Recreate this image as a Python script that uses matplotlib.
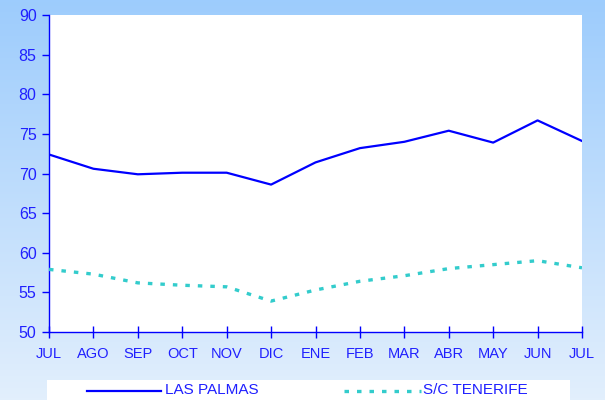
import numpy as np
import matplotlib
matplotlib.use("Agg")
import matplotlib.pyplot as plt
from matplotlib.lines import Line2D

months = ["JUL", "AGO", "SEP", "OCT", "NOV", "DIC", "ENE", "FEB", "MAR", "ABR", "MAY", "JUN", "JUL"]
las_palmas = [72.4, 70.6, 69.9, 70.1, 70.1, 68.6, 71.4, 73.2, 74.0, 75.4, 73.9, 76.7, 74.1]
tenerife = [57.9, 57.3, 56.2, 55.9, 55.7, 53.9, 55.3, 56.4, 57.1, 58.0, 58.5, 59.0, 58.1]
series_names = ["LAS PALMAS", "S/C TENERIFE"]
yticks = [50, 55, 60, 65, 70, 75, 80, 85, 90]

plt.rcParams['font.family'] = ['Liberation Sans', 'DejaVu Sans']

W, H = 605, 400
fig = plt.figure(figsize=(W / 100, H / 100), dpi=100)

# gradient background
bg = fig.add_axes([0, 0, 1, 1], zorder=-10)
top = np.array([0x9d, 0xcc, 0xfd]) / 255.0
bot = np.array([0xe2, 0xef, 0xfc]) / 255.0
t = np.linspace(0, 1, 200)[:, None]
grad = top[None, :] * (1 - t) + bot[None, :] * t
bg.imshow(grad[:, None, :], aspect='auto', extent=[0, 1, 0, 1])
bg.set_xlim(0, 1)
bg.set_ylim(0, 1)
bg.axis('off')

# plot area in pixels: left 49, right 582, top 15, bottom 332
l, r, tp, b = 49, 582, 15, 332
ax = fig.add_axes([l / W, 1 - b / H, (r - l) / W, (b - tp) / H])
ax.set_facecolor('white')

x = np.arange(len(months))
axis_blue = '#0000ff'
text_blue = '#2020ff'
teal_style = (0, (1.35, 2.4))
ax.plot(x, las_palmas, color='#0000ff', lw=1.6, solid_joinstyle='round', zorder=3)
ax.plot(x, tenerife, color='#33cccc', lw=2.4, linestyle=teal_style, zorder=3)

ax.set_xlim(0, len(months) - 1)
ax.set_ylim(50, 90)
ax.set_yticks(yticks)
ax.set_xticks(x)
ax.set_xticklabels(months)

for s in ['top', 'right']:
    ax.spines[s].set_visible(False)
for s in ['left', 'bottom']:
    ax.spines[s].set_color(axis_blue)
    ax.spines[s].set_linewidth(1.0)

ax.tick_params(axis='y', direction='out', length=5, width=1, color=axis_blue,
               labelcolor=text_blue, labelsize=11.5, pad=4)
ax.tick_params(axis='x', direction='inout', length=8, width=1, color=axis_blue,
               labelcolor=text_blue, labelsize=10.5, pad=7)

# legend box
leg_ax = fig.add_axes([47 / W, 0, (570 - 47) / W, 20.5 / H])
leg_ax.set_xlim(47, 570)
leg_ax.set_ylim(0, 20.5)
leg_ax.set_facecolor('white')
for s in leg_ax.spines.values():
    s.set_visible(False)
leg_ax.set_xticks([])
leg_ax.set_yticks([])
leg_ax.add_line(Line2D([87, 161], [9.5, 9.5], color='#0000ff', lw=1.6))
leg_ax.text(165, 9.5, series_names[0], color=text_blue, fontsize=11, va='center', ha='left')
leg_ax.add_line(Line2D([344, 421], [9.5, 9.5], color='#33cccc', lw=2.4, linestyle=teal_style))
leg_ax.text(423, 9.5, series_names[1], color=text_blue, fontsize=11, va='center', ha='left')

fig.savefig('out.png', dpi=100)
